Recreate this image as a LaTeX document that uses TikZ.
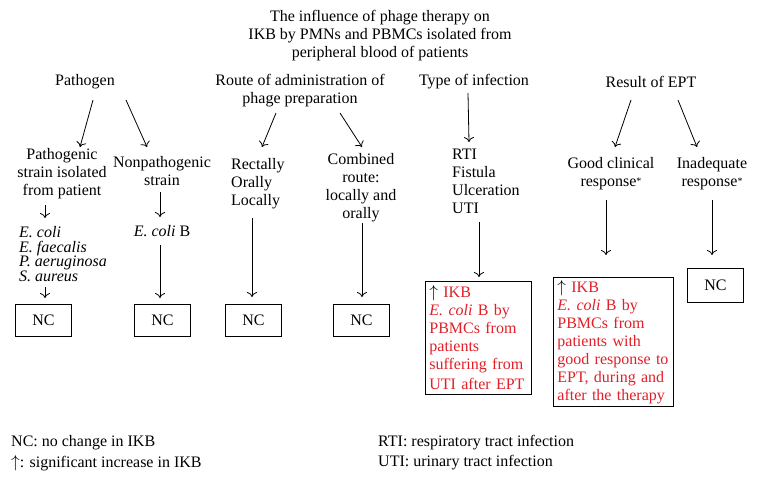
\documentclass[tikz,border=0pt]{standalone}
\usepackage{fontspec}
\setmainfont{Liberation Serif}
\usetikzlibrary{arrows.meta}
\definecolor{txtred}{RGB}{225,32,40}
\newcommand{\smallstar}{{\fontsize{10}{10}\selectfont\raisebox{2pt}{*}}}
\begin{document}
\begin{tikzpicture}[x=1pt,y=-1pt,
  every node/.style={inner sep=0pt, font=\fontsize{16}{18}\selectfont},
  lbl/.style={align=center},
  lft/.style={align=left, anchor=west},
  ncbox/.style={draw, line width=0.8pt, minimum width=56pt, minimum height=32pt},
  redbox/.style={draw, line width=0.8pt, align=left, text=txtred, inner xsep=4pt, inner ysep=3pt, anchor=north west},
  legend/.style={anchor=west, font=\fontsize{16}{19}\selectfont},
  arr/.style={-{To[length=5pt,width=10pt]}, line width=0.8pt}]
\useasboundingbox[fill=white] (0,0) rectangle (760,482);

\node[lbl] (title) at (380,36) {The influence of phage therapy on\\IKB by PMNs and PBMCs isolated from\\peripheral blood of patients};
\node (path) at (85,82) {Pathogen};
\node[lbl] (route) at (300,91) {Route of administration of\\phage preparation};
\node (type) at (474,82) {Type of infection};
\node (result) at (651,82) {Result of EPT};

\node[lbl] (pstrain) at (62,174) {Pathogenic\\strain isolated\\from patient};
\node[lbl] (npstrain) at (162,171) {Nonpathogenic\\strain};
\node[lft] (rect) at (231,184) {Rectally\\Orally\\Locally};
\node[lbl] (comb) at (361,188) {Combined\\route:\\locally and\\orally};
\node[lft] (rti) at (452,181) {RTI\\Fistula\\Ulceration\\UTI};
\node[lbl] (good) at (611,174) {Good clinical\\response\smallstar};
\node[lbl] (inad) at (712,174) {Inadequate\\response\smallstar};

\node[lft, font=\fontsize{16}{14.7}\selectfont\itshape] (species) at (19,254) {E. coli\\E. faecalis\\P. aeruginosa\\S. aureus};
\node (ecolib) at (162,231) {\textit{E. coli} B};

\node[ncbox] (nc1) at (43.5,320.5) {NC};
\node[ncbox] (nc2) at (162.5,320.5) {NC};
\node[ncbox] (nc3) at (253.5,320.5) {NC};
\node[ncbox] (nc4) at (361.5,320.5) {NC};
\node[ncbox, minimum height=34pt] (nc5) at (715.5,285) {NC};

\node[redbox, text width=98pt, minimum height=113pt] (red1) at (425,281) {{\color{black}$\uparrow$} IKB\\\textit{E. coli} B by\\PBMCs from\\patients\\suffering from\\[2pt]UTI after EPT};
\node[redbox, text width=112pt, minimum height=129pt] (red2) at (553,277) {{\color{black}$\uparrow$} IKB\\\textit{E. coli} B by\\PBMCs from\\patients with\\good response to\\EPT, during and\\after the therapy};

% arrows
\draw[arr] ([shift={(8,18)}]path.center) -- ([shift={(18,-27)}]pstrain.center);
\draw[arr] ([shift={(41,18)}]path.center) -- ([shift={(-15,-24)}]npstrain.center);
\draw[arr] ([shift={(-24,22)}]route.center) -- ([shift={(31,-37)}]rect.west);
\draw[arr] ([shift={(40,22)}]route.center) -- ([shift={(1,-41)}]comb.center);
\draw[arr] ([shift={(-6,11)}]type.center) -- ([shift={(17,-39)}]rti.west);
\draw[arr] ([shift={(-20,18)}]result.center) -- ([shift={(4,-27)}]good.center);
\draw[arr] ([shift={(27,18)}]result.center) -- ([shift={(-15,-27)}]inad.center);

\draw[arr] ([shift={(-17,31)}]pstrain.center) -- ([shift={(26,-36)}]species.west);
\draw[arr] ([shift={(26,33)}]species.west) -- ([shift={(1.5,-22.5)}]nc1.center);
\draw[arr] ([shift={(-2,21)}]npstrain.center) -- ([shift={(-2,-14)}]ecolib.center);
\draw[arr] ([shift={(-2,14)}]ecolib.center) -- ([shift={(-2.5,-22.5)}]nc2.center);
\draw[arr] ([shift={(21,34)}]rect.west) -- ([shift={(-1.5,-23.5)}]nc3.center);
\draw[arr] ([shift={(1,35)}]comb.center) -- ([shift={(0.5,-23.5)}]nc4.center);
\draw[arr] ([shift={(27,41)}]rti.west) -- ([shift={(54,-4)}]red1.north west);
\draw[arr] ([shift={(-5,26)}]good.center) -- ([shift={(53,-22)}]red2.north west);
\draw[arr] ([shift={(0,26)}]inad.center) -- ([shift={(-3.5,-30)}]nc5.center);

% legend
\node[legend] (l1) at (11,443) {NC: no change in IKB};
\node[legend] (l2) at (11,463) {$\uparrow$: significant increase in IKB};
\node[legend] (l3) at (378,443) {RTI: respiratory tract infection};
\node[legend] (l4) at (378,463) {UTI: urinary tract infection};
\end{tikzpicture}
\end{document}
